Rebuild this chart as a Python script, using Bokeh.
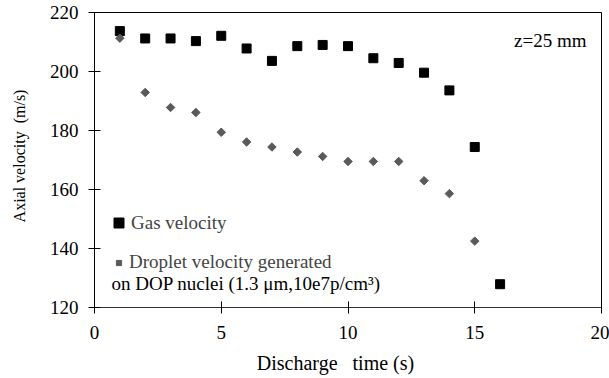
import math
from bokeh.plotting import figure
from bokeh.models import Range1d, FixedTicker, Legend, LegendItem, Label
from bokeh.embed import file_html
from bokeh.resources import INLINE

# ---- data ----
gas_time = [1, 2, 3, 4, 5, 6, 7, 8, 9, 10, 11, 12, 13, 14, 15, 16]
gas_velocity = [213.7, 211.2, 211.2, 210.3, 212.1, 207.8, 203.6, 208.6, 209.0, 208.6,
                204.5, 202.9, 199.6, 193.6, 174.4, 127.9]
drop_time = [1, 2, 3, 4, 5, 6, 7, 8, 9, 10, 11, 12, 13, 14, 15]
drop_velocity = [211.3, 192.9, 187.8, 186.1, 179.4, 176.1, 174.4, 172.7, 171.2, 169.5,
                 169.5, 169.5, 163.0, 158.6, 142.5]
x_ticks = [0, 5, 10, 15, 20]
y_ticks = [120, 140, 160, 180, 200, 220]

FONT = "Liberation Serif"
NB = "\u00a0"

p = figure(width=609, height=378, output_backend="svg", toolbar_location=None,
           x_range=Range1d(0, 20), y_range=Range1d(120, 220),
           min_border_left=94, min_border_right=8, min_border_top=12, min_border_bottom=71)
p.xgrid.visible = False
p.ygrid.visible = False
p.outline_line_color = "black"
p.outline_line_width = 1
p.background_fill_color = "white"
p.border_fill_color = "white"

for ax, ticks in ((p.xaxis[0], x_ticks), (p.yaxis[0], y_ticks)):
    ax.ticker = FixedTicker(ticks=ticks)
    ax.minor_tick_line_color = None
    ax.major_tick_in = 6
    ax.major_tick_out = 6
    ax.axis_line_color = "black"
    ax.major_tick_line_color = "black"
    ax.major_label_text_font = FONT
    ax.major_label_text_font_size = "19px"
    ax.major_label_text_color = "black"
    ax.axis_label_text_font = FONT
    ax.axis_label_text_font_size = "20px"
    ax.axis_label_text_font_style = "normal"
    ax.axis_label_text_color = "black"

p.xaxis[0].axis_label = "Discharge" + NB * 3 + "time (s)" + NB * 5
p.xaxis[0].major_label_standoff = 12
p.xaxis[0].axis_label_standoff = 10
p.xaxis[0].axis_line_color = "#333333"
p.yaxis[0].axis_label = NB * 2 + "Axial velocity" + NB * 2 + "(m/s)"
p.yaxis[0].axis_label_text_font_size = "16px"
p.yaxis[0].major_label_standoff = 10
p.yaxis[0].axis_label_standoff = 19

gas = p.scatter(gas_time, gas_velocity, marker="square", size=9,
                fill_color="black", line_color="black")
drop = p.scatter(drop_time, drop_velocity, marker="square", size=6, angle=math.pi / 4,
                 fill_color="#5a5a5a", line_color="#5a5a5a")

leg1 = Legend(items=[LegendItem(label="Gas velocity", renderers=[gas])],
              location=(12, 72), glyph_width=25, glyph_height=25, label_height=25,
              label_standoff=0, padding=0, margin=0, spacing=0,
              background_fill_alpha=0, border_line_color=None,
              label_text_font=FONT, label_text_font_size="19px")
leg2 = Legend(items=[LegendItem(label="Droplet velocity generated", renderers=[drop])],
              location=(18, 33), glyph_width=13, glyph_height=13, label_height=24,
              label_standoff=4, padding=0, margin=0, spacing=0,
              background_fill_alpha=0, border_line_color=None,
              label_text_font=FONT, label_text_font_size="19px")
p.add_layout(leg1, "center")
p.add_layout(leg2, "center")

p.add_layout(Label(x=17, y=24, x_units="screen", y_units="screen",
                   text="on DOP nuclei (1.3 μm,10e7p/cm³)", text_baseline="middle",
                   text_font=FONT, text_font_size="19px", text_color="black"))
p.add_layout(Label(x=492, y=267, x_units="screen", y_units="screen",
                   text="z=25 mm", text_align="right", text_baseline="middle",
                   text_font=FONT, text_font_size="19px", text_color="black"))

open("out.html", "w").write(file_html(p, INLINE))
